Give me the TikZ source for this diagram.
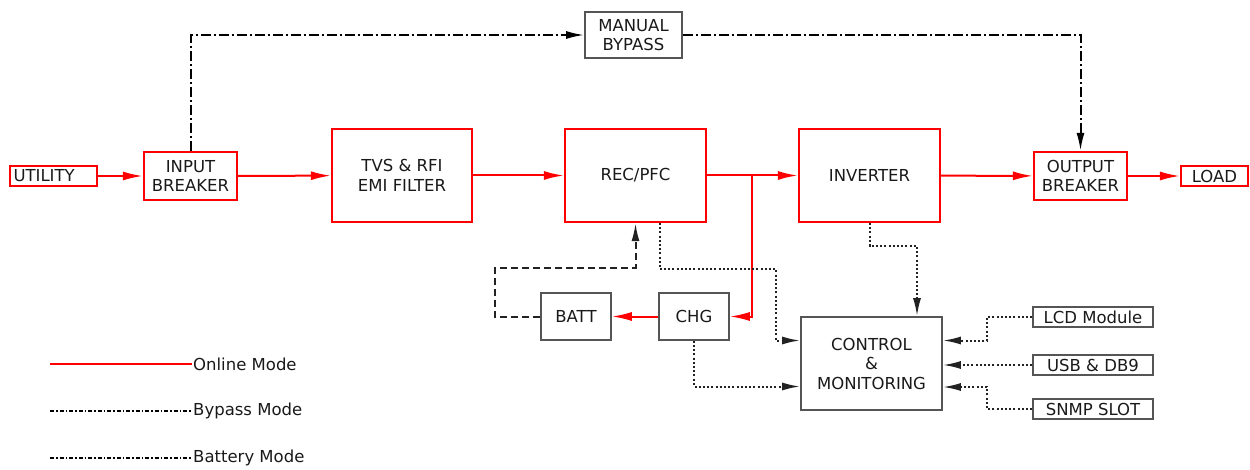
\documentclass[tikz,border=0pt]{standalone}
\usepackage{fontspec}
\setmainfont{DejaVu Sans}
\usetikzlibrary{arrows.meta,calc}
\definecolor{boxgray}{HTML}{555555}
\definecolor{darkline}{HTML}{222222}
\begin{document}
\begin{tikzpicture}[x=1pt,y=-1pt,
 font=\fontsize{16.5}{19.5}\selectfont,
 rbox/.style={draw=red,line width=2.2pt,inner sep=0pt,align=center,text=black!90},
 gbox/.style={draw=boxgray,line width=1.6pt,inner sep=0pt,align=center,text=black!90},
 online/.style={red,line width=2pt},
 rarrow/.style={-{Latex[length=20pt,width=9pt]}},
 karrow/.style={-{Latex[length=18pt,width=8pt]}},
 bypass/.style={black,line width=2pt,dash pattern=on 10pt off 3pt on 2pt off 3pt},
 batline/.style={darkline,line width=2pt,dash pattern=on 7pt off 4pt},
 ctl/.style={darkline,line width=2pt,dash pattern=on 2pt off 2.2pt},
 legdash/.style={black,line width=1.5pt,dash pattern=on 4pt off 2pt on 1.5pt off 2pt},
]
\useasboundingbox (0,0) rectangle (1250,470);

% main path
\node[rbox,minimum width=87pt,minimum height=20pt,text width=80pt,align=left] (util) at (53.5,176) {UTILITY};
\node[rbox,minimum width=93pt,minimum height=48pt] (inb) at (190.5,176) {INPUT\\BREAKER};
\node[rbox,minimum width=140pt,minimum height=93pt] (tvs) at (402,175.5) {TVS \& RFI\\EMI FILTER};
\node[rbox,minimum width=141pt,minimum height=93pt] (rec) at (635.5,175.5) {REC/PFC};
\node[rbox,minimum width=141pt,minimum height=93pt] (inv) at (869.5,175.5) {INVERTER};
\node[rbox,minimum width=93pt,minimum height=48pt] (outb) at (1080.5,176) {OUTPUT\\BREAKER};
\node[rbox,minimum width=67pt,minimum height=20pt] (load) at (1214.5,176) {LOAD};

\node[gbox,minimum width=97pt,minimum height=46pt] (mb) at (633.5,35) {MANUAL\\BYPASS};
\node[gbox,minimum width=70pt,minimum height=47pt] (chg) at (694,316.5) {CHG};
\node[gbox,minimum width=70pt,minimum height=47pt] (batt) at (576,316.5) {BATT};
\node[gbox,minimum width=141pt,minimum height=93pt] (ctrl) at (871.5,363.5) {CONTROL\\\&\\MONITORING};
\node[gbox,minimum width=120pt,minimum height=20pt] (lcd) at (1093,317) {LCD Module};
\node[gbox,minimum width=120pt,minimum height=20pt] (usb) at (1093,365) {USB \& DB9};
\node[gbox,minimum width=120pt,minimum height=20pt] (snmp) at (1093,409) {SNMP SLOT};

% online connectors
\draw[online,rarrow] (util) -- (inb);
\draw[online,rarrow] (inb) -- (tvs);
\draw[online,rarrow] (tvs) -- (rec);
\draw[online,rarrow] (rec) -- (inv);
\draw[online,rarrow] (inv) -- (outb);
\draw[online,rarrow] (outb) -- (load);
\coordinate (br) at (752,176);
\draw[online,rarrow] (br) |- (chg.east);
\draw[online,rarrow] (chg) -- (batt);

% bypass
\draw[bypass,karrow] (inb.north) |- (mb.west);
\draw[bypass,karrow] (mb.east) -| (outb.north);

% battery mode
\coordinate (bb) at (495,268);
\draw[batline,karrow] (batt.west) -| (bb) -| (rec.south);

% control lines
\coordinate (c1) at (776,269);
\draw[ctl,karrow] ($(rec.south)+(24,0)$) |- (c1) |- ($(ctrl.west)+(0,-23)$);
\draw[ctl,karrow] (chg.south) |- ($(ctrl.west)+(0,23)$);
\coordinate (c2) at (917,246);
\draw[ctl,karrow] (inv.south) |- (c2) -- ($(ctrl.north)+(45.5,0)$);
\coordinate (c3) at (987,317);
\coordinate (c4) at (987,387);
\draw[ctl,karrow] (lcd.west) -- (c3) |- ($(ctrl.east)+(0,-23)$);
\draw[ctl,karrow] (usb.west) -- ($(ctrl.east)+(0,1.5)$);
\draw[ctl,karrow] (snmp.west) -| (c4) -- ($(ctrl.east)+(0,23.5)$);

% legend
\node[anchor=west,text=black!90,inner sep=1pt] (t1) at (192,364) {Online Mode};
\node[anchor=west,text=black!90,inner sep=1pt] (t2) at (192,411) {Bypass Mode};
\node[anchor=west,text=black!90,inner sep=1pt] (t3) at (192,458) {Battery Mode};
\coordinate (l1) at (50,364);
\coordinate (l2) at (50,411);
\coordinate (l3) at (50,458);
\draw[online] (l1) -- (t1.west);
\draw[legdash] (l2) -- (t2.west);
\draw[legdash] (l3) -- (t3.west);
\end{tikzpicture}
\end{document}
